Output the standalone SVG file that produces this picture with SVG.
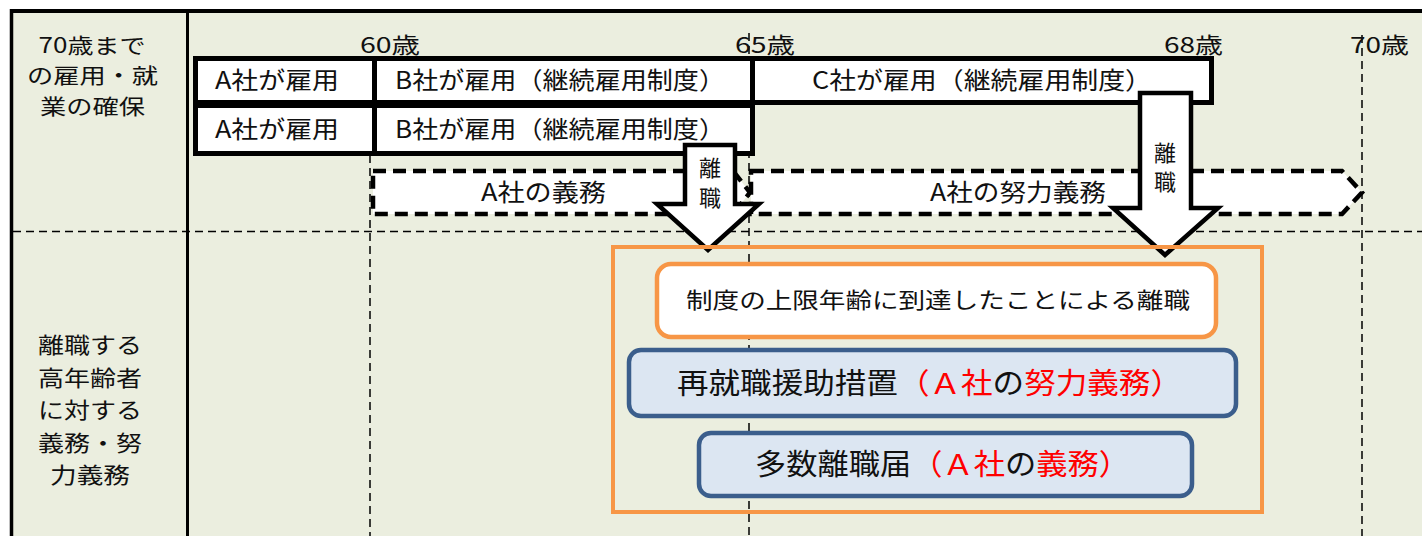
<svg xmlns="http://www.w3.org/2000/svg" width="1422" height="536" viewBox="0 0 1422 536">
<style>
text{font-family:"Noto Sans CJK JP","Noto Sans",sans-serif;fill:#111}
.lbl{font-size:21px;text-anchor:middle}
.lbl2{font-size:22px;text-anchor:middle}
.age{font-size:22px}
.row{fill:#fff;stroke:#000;stroke-width:5}
.rt{font-size:24px}
.grid{stroke:#000;stroke-width:1.5;stroke-dasharray:8 5;fill:none}
.chev{fill:#fff;stroke:#000;stroke-width:4.5;stroke-dasharray:13 7}
.arr{fill:#fff;stroke:#000;stroke-width:4.5;stroke-linejoin:miter}
.at{font-size:22px;text-anchor:middle}
.blue{fill:#DCE6F2;stroke:#3B5E8C;stroke-width:4.5}
.red{fill:#FF0000}
</style>
<rect x="0" y="0" width="1422" height="536" fill="#fff"/>
<rect x="12" y="11" width="1410" height="525" fill="#EBEEDF"/>
<g id="frame">
<line x1="10" y1="11" x2="1422" y2="11" stroke="#000" stroke-width="4"/>
<line x1="11.5" y1="9" x2="11.5" y2="536" stroke="#000" stroke-width="3.5"/>
<line x1="187.5" y1="11" x2="187.5" y2="536" stroke="#000" stroke-width="3"/>
</g>
<g id="gridlines">
<line class="grid" x1="13" y1="231.5" x2="1422" y2="231.5"/>
<line class="grid" x1="370" y1="155" x2="370" y2="536"/>
<line class="grid" x1="749" y1="33" x2="749" y2="536"/>
<line class="grid" x1="1362" y1="35" x2="1362" y2="536"/>
</g>
<g id="left-labels">
<text class="lbl" x="92" y="52.5" textLength="107" lengthAdjust="spacingAndGlyphs">70歳まで</text>
<text class="lbl" x="92.5" y="83" textLength="131" lengthAdjust="spacingAndGlyphs">の雇用・就</text>
<text class="lbl" x="92.5" y="113.5" textLength="105" lengthAdjust="spacingAndGlyphs">業の確保</text>
<text class="lbl2" x="90" y="353" textLength="104" lengthAdjust="spacingAndGlyphs">離職する</text>
<text class="lbl2" x="90" y="386" textLength="104" lengthAdjust="spacingAndGlyphs">高年齢者</text>
<text class="lbl2" x="90" y="418" textLength="104" lengthAdjust="spacingAndGlyphs">に対する</text>
<text class="lbl2" x="90" y="451" textLength="104" lengthAdjust="spacingAndGlyphs">義務・努</text>
<text class="lbl2" x="90" y="483" textLength="80" lengthAdjust="spacingAndGlyphs">力義務</text>
</g>
<g id="ages">
<text class="age" x="360" y="53" textLength="60" lengthAdjust="spacingAndGlyphs">60歳</text>
<text class="age" x="735" y="53" textLength="60" lengthAdjust="spacingAndGlyphs">65歳</text>
<text class="age" x="1164" y="53" textLength="59" lengthAdjust="spacingAndGlyphs">68歳</text>
<text class="age" x="1350" y="53" textLength="59" lengthAdjust="spacingAndGlyphs">70歳</text>
</g>
<g id="row1-a"><rect class="row" x="195.5" y="58.5" width="179" height="44"/><text class="rt" x="215" y="88.5" textLength="124" lengthAdjust="spacingAndGlyphs">A社が雇用</text></g>
<g id="row1-b"><rect class="row" x="374.5" y="58.5" width="378" height="44"/><text class="rt" x="395" y="88.5" textLength="330" lengthAdjust="spacingAndGlyphs">B社が雇用（継続雇用制度）</text></g>
<g id="row1-c"><rect class="row" x="752.5" y="58.5" width="459" height="44"/><text class="rt" x="812" y="88.5" textLength="340" lengthAdjust="spacingAndGlyphs">C社が雇用（継続雇用制度）</text></g>
<g id="row2-a"><rect class="row" x="195.5" y="105.5" width="179" height="48"/><text class="rt" x="215" y="137.5" textLength="124" lengthAdjust="spacingAndGlyphs">A社が雇用</text></g>
<g id="row2-b"><rect class="row" x="374.5" y="105.5" width="378" height="48"/><text class="rt" x="395" y="137.5" textLength="330" lengthAdjust="spacingAndGlyphs">B社が雇用（継続雇用制度）</text></g>
<g id="duty-a">
<polygon class="chev" points="373,171 733,171 750,192.5 733,214 373,214"/>
<text class="rt" x="481" y="201" textLength="125" lengthAdjust="spacingAndGlyphs">A社の義務</text>
</g>
<g id="effort-a">
<polygon class="chev" points="751,171 1342,171 1362,192.5 1342,214 751,214"/>
<text class="rt" x="930" y="201" textLength="176" lengthAdjust="spacingAndGlyphs">A社の努力義務</text>
</g>
<g id="connectors">
<g id="arrow1">
<polygon class="arr" points="685,145 735,145 735,204 759,204 708,250 657,204 685,204"/>
<text class="at" x="710" y="176">離</text>
<text class="at" x="710" y="206">職</text>
</g>
<g id="arrow2">
<polygon class="arr" points="1140,93 1191,93 1191,208 1218,208 1165,255 1113,208 1140,208"/>
<text class="at" x="1165" y="161">離</text>
<text class="at" x="1165" y="190">職</text>
</g>
</g>
<g id="obligations">
<rect x="613" y="247" width="649" height="265" fill="none" stroke="#F79646" stroke-width="4"/>
</g>
<g id="reason">
<rect x="657" y="264" width="559" height="73" rx="14" fill="#fff" stroke="#F79646" stroke-width="4.5"/>
<text x="686" y="308" font-size="22" textLength="504" lengthAdjust="spacingAndGlyphs">制度の上限年齢に到達したことによる離職</text>
</g>
<g id="reemployment">
<rect class="blue" x="629" y="350" width="607" height="66" rx="12"/>
<text x="677" y="394" font-size="29" textLength="505" lengthAdjust="spacingAndGlyphs">再就職援助措置<tspan class="red">（Ａ社</tspan>の<tspan class="red">努力義務）</tspan></text>
</g>
<g id="mass-notice">
<rect class="blue" x="699" y="433" width="493" height="63" rx="12"/>
<text x="755" y="475" font-size="29" textLength="375" lengthAdjust="spacingAndGlyphs">多数離職届<tspan class="red">（Ａ社</tspan>の<tspan class="red">義務）</tspan></text>
</g>
</svg>
